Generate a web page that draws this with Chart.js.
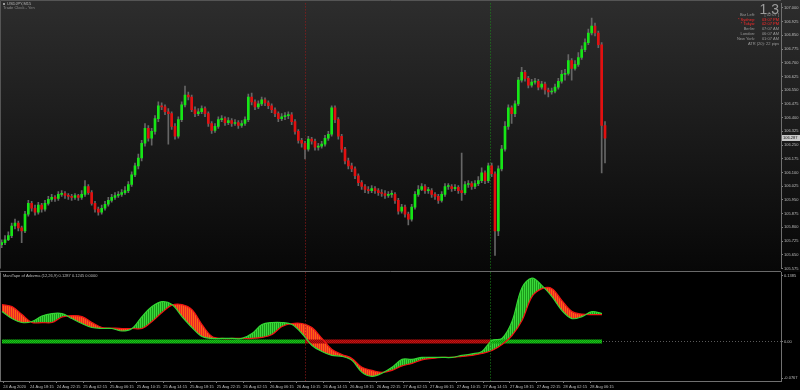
<!DOCTYPE html>
<html>
<head>
<meta charset="utf-8">
<script src="https://cdn.jsdelivr.net/npm/chart.js@4.4.1/dist/chart.umd.min.js"></script>
<style>
  html, body { margin: 0; padding: 0; background: #000; }
  #wrap { position: relative; width: 800px; height: 390px; overflow: hidden; background: #000; }
  canvas { position: absolute; left: 0; }
  #priceChart { top: 0; }
  #tapeChart { top: 269px; }
</style>
</head>
<body>
<div id="wrap">
  <canvas id="priceChart" width="800" height="272"></canvas>
  <canvas id="tapeChart" width="800" height="121"></canvas>
</div>
<script>
// USDJPY candles, one every 30 min; time is hours counted from 24 Aug 00:00
const firstBarHour = 14;
const barStep = 0.5;
const firstOpen = 105.705;

const closes = [
  105.716, 105.732, 105.754, 105.807, 105.823, 105.797, 105.780, 105.872, 105.931, 105.904,
  105.883, 105.921, 105.899, 105.931, 105.953, 105.964, 105.958, 105.980, 105.985, 105.974,
  105.969, 105.964, 105.974, 105.964, 105.980, 106.023, 105.990, 105.931, 105.899, 105.883,
  105.904, 105.926, 105.947, 105.964, 105.974, 105.980, 105.990, 106.001, 106.034, 106.087,
  106.136, 106.179, 106.260, 106.341, 106.287, 106.325, 106.395, 106.465, 106.459, 106.432,
  106.422, 106.352, 106.298, 106.389, 106.470, 106.524, 106.513, 106.443, 106.422, 106.432,
  106.449, 106.422, 106.368, 106.330, 106.352, 106.389, 106.395, 106.373, 106.384, 106.368,
  106.373, 106.357, 106.368, 106.389, 106.513, 106.486, 106.459, 106.475, 106.497, 106.481,
  106.465, 106.443, 106.422, 106.395, 106.405, 106.411, 106.416, 106.378, 106.325, 106.276,
  106.260, 106.228, 106.282, 106.271, 106.238, 106.244, 106.255, 106.287, 106.309, 106.454,
  106.389, 106.298, 106.228, 106.163, 106.136, 106.120, 106.082, 106.044, 106.023, 106.007,
  106.001, 106.012, 106.001, 105.990, 105.985, 105.974, 105.980, 105.980, 105.947, 105.888,
  105.910, 105.872, 105.845, 105.910, 105.980, 106.007, 106.023, 106.001, 106.001, 105.980,
  105.969, 105.947, 105.980, 106.023, 106.023, 106.012, 106.018, 106.001, 105.990, 106.034,
  106.039, 106.023, 106.039, 106.055, 106.098, 106.055, 106.136, 106.093, 105.780, 106.120,
  106.228, 106.352, 106.454, 106.422, 106.475, 106.605, 106.648, 106.615, 106.578, 106.594,
  106.599, 106.567, 106.583, 106.551, 106.540, 106.545, 106.567, 106.599, 106.637, 106.642,
  106.712, 106.669, 106.691, 106.729, 106.772, 106.810, 106.863, 106.901, 106.863, 106.799,
  106.357, 106.287
];

const highs = [
  105.732, 105.754, 105.775, 105.823, 105.845, 105.834, 105.807, 105.888, 105.947, 105.942,
  105.921, 105.937, 105.931, 105.947, 105.969, 105.980, 105.974, 105.996, 106.001, 105.996,
  105.985, 105.980, 105.985, 105.980, 106.001, 106.055, 106.034, 106.001, 105.942, 105.910,
  105.921, 105.942, 105.964, 105.980, 105.990, 105.996, 106.007, 106.023, 106.050, 106.104,
  106.152, 106.201, 106.276, 106.368, 106.357, 106.341, 106.411, 106.486, 106.481, 106.470,
  106.449, 106.432, 106.368, 106.405, 106.486, 106.572, 106.540, 106.524, 106.459, 106.449,
  106.465, 106.459, 106.432, 106.378, 106.368, 106.405, 106.411, 106.405, 106.400, 106.395,
  106.389, 106.384, 106.384, 106.405, 106.529, 106.535, 106.497, 106.492, 106.513, 106.508,
  106.492, 106.475, 106.454, 106.432, 106.422, 106.427, 106.432, 106.427, 106.389, 106.335,
  106.287, 106.271, 106.298, 106.292, 106.282, 106.260, 106.271, 106.303, 106.325, 106.465,
  106.465, 106.400, 106.309, 106.238, 106.179, 106.152, 106.131, 106.093, 106.055, 106.034,
  106.023, 106.028, 106.023, 106.012, 106.007, 106.001, 105.996, 106.001, 105.990, 105.958,
  105.926, 105.921, 105.883, 105.926, 105.996, 106.028, 106.039, 106.034, 106.018, 106.012,
  105.990, 105.980, 105.996, 106.039, 106.039, 106.034, 106.034, 106.028, 106.206, 106.050,
  106.055, 106.050, 106.055, 106.077, 106.125, 106.109, 106.152, 106.152, 106.104, 106.136,
  106.249, 106.378, 106.470, 106.465, 106.492, 106.621, 106.675, 106.659, 106.626, 106.610,
  106.615, 106.610, 106.599, 106.594, 106.562, 106.562, 106.583, 106.615, 106.659, 106.664,
  106.745, 106.723, 106.712, 106.756, 106.793, 106.831, 106.885, 106.944, 106.917, 106.874,
  106.810, 106.378
];

const lows = [
  105.689, 105.705, 105.727, 105.743, 105.791, 105.780, 105.716, 105.770, 105.861, 105.888,
  105.867, 105.872, 105.883, 105.888, 105.921, 105.942, 105.942, 105.947, 105.969, 105.958,
  105.953, 105.947, 105.953, 105.947, 105.953, 105.969, 105.980, 105.921, 105.883, 105.867,
  105.872, 105.894, 105.915, 105.937, 105.953, 105.964, 105.969, 105.980, 105.990, 106.023,
  106.077, 106.120, 106.163, 106.244, 106.271, 106.249, 106.309, 106.378, 106.443, 106.416,
  106.255, 106.335, 106.282, 106.287, 106.378, 106.459, 106.497, 106.432, 106.405, 106.411,
  106.422, 106.405, 106.352, 106.314, 106.319, 106.341, 106.378, 106.357, 106.362, 106.352,
  106.357, 106.341, 106.346, 106.357, 106.378, 106.470, 106.443, 106.449, 106.465, 106.465,
  106.449, 106.427, 106.405, 106.378, 106.384, 106.389, 106.395, 106.362, 106.309, 106.260,
  106.238, 106.174, 106.217, 106.255, 106.222, 106.222, 106.233, 106.244, 106.276, 106.298,
  106.373, 106.282, 106.211, 106.147, 106.120, 106.104, 106.066, 106.028, 106.007, 105.990,
  105.985, 105.990, 105.985, 105.974, 105.969, 105.958, 105.964, 105.964, 105.931, 105.872,
  105.877, 105.856, 105.813, 105.834, 105.899, 105.969, 106.001, 105.985, 105.985, 105.964,
  105.953, 105.931, 105.937, 105.969, 106.007, 105.996, 106.001, 105.985, 105.947, 105.980,
  106.018, 106.007, 106.012, 106.028, 106.044, 106.039, 106.044, 106.077, 105.646, 105.754,
  106.109, 106.217, 106.335, 106.368, 106.405, 106.465, 106.594, 106.599, 106.562, 106.567,
  106.583, 106.551, 106.556, 106.529, 106.513, 106.529, 106.535, 106.556, 106.589, 106.605,
  106.632, 106.605, 106.659, 106.680, 106.718, 106.761, 106.799, 106.852, 106.847, 106.783,
  106.098, 106.152
];

const priceTicks = [
  107.000, 106.925, 106.850, 106.775, 106.700, 106.625, 106.550, 106.475, 106.400, 106.325,
  106.250, 106.175, 106.100, 106.025, 105.950, 105.875, 105.800, 105.725, 105.650, 105.575
];

const timeTickHours = [
  14.25, 18.25, 22.25, 26.25, 30.25, 34.25, 38.25, 42.25, 46.25, 50.25, 54.25, 58.25,
  62.25, 66.25, 70.25, 74.25, 78.25, 82.25, 86.25, 90.25, 94.25, 98.25, 102.25
];
const timeLabels = [
  "24 Aug 2020", "24 Aug 18:15", "24 Aug 22:15", "25 Aug 02:15", "25 Aug 06:15", "25 Aug 10:15",
  "25 Aug 14:15", "25 Aug 18:15", "25 Aug 22:15", "26 Aug 02:15", "26 Aug 06:15", "26 Aug 10:15",
  "26 Aug 14:15", "26 Aug 18:15", "26 Aug 22:15", "27 Aug 02:15", "27 Aug 06:15", "27 Aug 10:15",
  "27 Aug 14:15", "27 Aug 18:15", "27 Aug 22:15", "28 Aug 02:15", "28 Aug 06:15"
];

// ManiTape lines, one reading every 1.5 h
const tapeStart = 14.05;
const tapeStep = 1.5;
const tapeFast = [
  0.0627, 0.0480, 0.0397, 0.0418, 0.0533, 0.0585, 0.0585, 0.0480, 0.0376, 0.0292,
  0.0272, 0.0272, 0.0219, 0.0272, 0.0522, 0.0731, 0.0836, 0.0773, 0.0522, 0.0292,
  0.0104, 0.0063, 0.0063, 0.0063, 0.0063, 0.0167, 0.0355, 0.0397, 0.0397, 0.0355,
  0.0167, -0.0084, -0.0209, -0.0292, -0.0313, -0.0397, -0.0648, -0.0731, -0.0668, -0.0543,
  -0.0376, -0.0376, -0.0334, -0.0334, -0.0334, -0.0334, -0.0292, -0.0261, -0.0209, 0.0021,
  0.0063, 0.0418, 0.1128, 0.1327, 0.1170, 0.0940, 0.0648, 0.0480, 0.0522, 0.0627,
  0.0585
];
const tapeSlow = [
  0.0773, 0.0731, 0.0564, 0.0397, 0.0397, 0.0397, 0.0512, 0.0543, 0.0522, 0.0397,
  0.0292, 0.0282, 0.0272, 0.0272, 0.0272, 0.0418, 0.0606, 0.0762, 0.0773, 0.0668,
  0.0355, 0.0104, 0.0063, 0.0063, 0.0063, 0.0063, 0.0084, 0.0146, 0.0313, 0.0376,
  0.0376, 0.0292, 0.0063, -0.0167, -0.0272, -0.0355, -0.0543, -0.0606, -0.0648, -0.0606,
  -0.0512, -0.0460, -0.0386, -0.0355, -0.0334, -0.0334, -0.0313, -0.0292, -0.0251, -0.0188,
  -0.0063, 0.0125, 0.0439, 0.0940, 0.1107, 0.1107, 0.0856, 0.0627, 0.0574, 0.0564,
  0.0564
];
const tapeTicks = [0.1385, 0, -0.0767];
const tapeTickLabels = ["0.1385", "0.00", "-0.0767"];

// zero band: trend signal flips at these hours
const bandHours = [14.05, 59.5, 87.25, 104.05];
const bandSignal = ["up", "down", "up"];

const clockNames = ["Bar Left:", "* Sydney:", "* Tokyo:", "Berlin:", "London:", "New York:"];
const clockValues = ["[ 02:07 ]", "03:07 PM", "02:07 PM", "07:07 AM", "06:07 AM", "01:07 AM"];
const clockRed = [false, true, true, false, false, false];

const xMin = 13.75;
const xMax = 130.9;

Chart.defaults.font.family = "'Liberation Sans', Arial, sans-serif";
Chart.defaults.font.size = 4;
Chart.defaults.color = "#bdbdbd";

const opens = [firstOpen].concat(closes.slice(0, -1)); // each bar opens at the previous close
const barHour = i => firstBarHour + i * barStep;

const wickData = closes.map((c, i) => ({ x: barHour(i), y: [lows[i], highs[i]] }));
const bodyData = closes.map((c, i) => ({ x: barHour(i), y: [opens[i], c] }));
const bodyColors = closes.map((c, i) => c >= opens[i] ? "#16e616" : "#e21010");

function drawSignals(chart) {
  const { ctx, chartArea, scales } = chart;
  ctx.save();
  ctx.lineWidth = 1;
  ctx.setLineDash([1, 2]);
  for (let i = 1; i < bandHours.length - 1; i++) {
    const x = Math.round(scales.x.getPixelForValue(bandHours[i])) + 0.5;
    ctx.strokeStyle = bandSignal[i] === "down" ? "#9b1b1b" : "#1b8a1b";
    ctx.beginPath();
    ctx.moveTo(x, chartArea.top);
    ctx.lineTo(x, chartArea.bottom);
    ctx.stroke();
  }
  ctx.restore();
}

const pricePanel = {
  id: "pricePanel",
  beforeDraw(chart) {
    const { ctx, width, height } = chart;
    const g = ctx.createLinearGradient(0, 0, 0, height);
    g.addColorStop(0, "#2d2d2d");
    g.addColorStop(1, "#070707");
    ctx.save();
    ctx.fillStyle = g;
    ctx.fillRect(0, 0, width, height);
    ctx.restore();
  },
  beforeDatasetsDraw(chart) {
    drawSignals(chart);
  },
  afterDraw(chart) {
    const { ctx, chartArea, scales } = chart;
    ctx.save();
    // frame
    ctx.strokeStyle = "#555";
    ctx.lineWidth = 1;
    ctx.beginPath();
    ctx.moveTo(0.5, chartArea.bottom);
    ctx.lineTo(0.5, 0.5);
    ctx.lineTo(chartArea.right, 0.5);
    ctx.stroke();

    // symbol title
    ctx.fillStyle = "#9a9a9a";
    ctx.fillRect(3, 3, 2, 2);
    ctx.font = "4px 'Liberation Sans'";
    ctx.textBaseline = "middle";
    ctx.textAlign = "left";
    ctx.fillStyle = "#b5b5b5";
    ctx.fillText("USDJPY,M15", 7, 4);
    ctx.fillStyle = "#8a8a8a";
    ctx.fillText("Trade Clock - Yen", 3, 8);

    // clock box
    ctx.textAlign = "right";
    ctx.textBaseline = "alphabetic";
    ctx.font = "14px 'Liberation Sans'";
    ctx.fillStyle = "#9c9c9c";
    ctx.fillText("1.3", 779, 13.5);
    ctx.font = "4px 'Liberation Sans'";
    ctx.textBaseline = "middle";
    const rowY = [15.3, 19.7, 24, 29, 34, 38.7];
    clockNames.forEach((name, i) => {
      ctx.fillStyle = clockRed[i] ? "#ff2a2a" : "#9a9a9a";
      ctx.fillText(name, 755, rowY[i]);
      ctx.fillText(clockValues[i], 779, rowY[i]);
    });
    ctx.fillStyle = "#9a9a9a";
    ctx.fillText("ATR (20): 22 pips", 779, 43.7);

    // current price tag
    const last = closes[closes.length - 1];
    const y = scales.y.getPixelForValue(last);
    ctx.fillStyle = "#c8c8c8";
    ctx.fillRect(chartArea.right + 1, Math.round(y) - 3, 19, 6);
    ctx.fillStyle = "#111";
    ctx.textAlign = "left";
    ctx.fillText(last.toFixed(3), chartArea.right + 2, Math.round(y));
    ctx.restore();
  }
};

new Chart(document.getElementById("priceChart"), {
  type: "bar",
  data: {
    datasets: [
      { data: wickData, backgroundColor: "#666", barThickness: 1, grouped: false, order: 2 },
      { data: bodyData, backgroundColor: bodyColors, barThickness: 2, grouped: false, minBarLength: 1, order: 1 }
    ]
  },
  options: {
    responsive: false,
    animation: false,
    devicePixelRatio: 1,
    events: [],
    layout: { padding: { left: 0, right: 0, top: 0, bottom: 2 } },
    plugins: { legend: { display: false }, tooltip: { enabled: false } },
    scales: {
      x: { type: "linear", min: xMin, max: xMax, display: false, offset: false, grid: { offset: false } },
      y: {
        position: "right",
        min: 105.574,
        max: 107.025,
        afterBuildTicks: s => { s.ticks = priceTicks.map(v => ({ value: v })); },
        afterFit: s => { s.width = 19; },
        border: { color: "#707070" },
        grid: { drawOnChartArea: false, drawTicks: true, tickLength: 2, color: "#808080" },
        ticks: { autoSkip: false, padding: 1, callback: v => v.toFixed(3) }
      }
    }
  },
  plugins: [pricePanel]
});

const tapeCanvas = document.getElementById("tapeChart");
const tapeCtx = tapeCanvas.getContext("2d");

function stripePattern(a, b) {
  const c = document.createElement("canvas");
  c.width = 2;
  c.height = 1;
  const g = c.getContext("2d");
  g.fillStyle = a;
  g.fillRect(0, 0, 1, 1);
  g.fillStyle = b;
  g.fillRect(1, 0, 1, 1);
  return tapeCtx.createPattern(c, "repeat");
}

function checkerPattern(a, b) {
  const c = document.createElement("canvas");
  c.width = 2;
  c.height = 2;
  const g = c.getContext("2d");
  g.fillStyle = a;
  g.fillRect(0, 0, 2, 2);
  g.fillStyle = b;
  g.fillRect(0, 0, 1, 1);
  g.fillRect(1, 1, 1, 1);
  return tapeCtx.createPattern(c, "repeat");
}

const greenTape = stripePattern("#3ad83a", "#1a9a1a");
const redTape = stripePattern("#e8282a", "#ff6410");
const greenBand = checkerPattern("#18c818", "#0c8a0c");
const redBand = checkerPattern("#cc1010", "#8a0a0a");

const fastPts = tapeFast.map((v, i) => ({ x: tapeStart + i * tapeStep, y: v }));
const slowPts = tapeSlow.map((v, i) => ({ x: tapeStart + i * tapeStep, y: v }));
const bandPts = bandHours.map(h => ({ x: h, y: 0 }));

const tapePanel = {
  id: "tapePanel",
  beforeDraw(chart) {
    const { ctx, width, height } = chart;
    ctx.save();
    ctx.fillStyle = "#000";
    ctx.fillRect(0, 3, width, height - 3);
    ctx.restore();
  },
  beforeDatasetsDraw(chart) {
    const { ctx, chartArea, scales } = chart;
    const y = Math.round(scales.y.getPixelForValue(0)) + 0.5;
    ctx.save();
    ctx.strokeStyle = "#5a5a5a";
    ctx.setLineDash([1, 2]);
    ctx.beginPath();
    ctx.moveTo(chartArea.left, y);
    ctx.lineTo(chartArea.right, y);
    ctx.stroke();
    ctx.restore();
  },
  afterDatasetsDraw(chart) {
    drawSignals(chart);
  },
  afterDraw(chart) {
    const { ctx, chartArea } = chart;
    ctx.save();
    ctx.strokeStyle = "#6a6a6a";
    ctx.lineWidth = 1;
    ctx.beginPath();
    ctx.moveTo(0, 2.5);
    ctx.lineTo(chartArea.right, 2.5);
    ctx.moveTo(0.5, chartArea.top);
    ctx.lineTo(0.5, chartArea.bottom);
    ctx.stroke();
    ctx.font = "4px 'Liberation Sans'";
    ctx.fillStyle = "#bdbdbd";
    ctx.textBaseline = "middle";
    ctx.fillText("ManiTape of Adxvma (12,26,9) 0.1287 0.1245 0.0000", 3, 6.5);
    ctx.restore();
  }
};

new Chart(tapeCanvas, {
  type: "line",
  data: {
    datasets: [
      {
        data: fastPts,
        borderColor: "#33d633",
        borderWidth: 1.2,
        pointRadius: 0,
        tension: 0.35,
        fill: { target: 1, above: greenTape, below: redTape }
      },
      { data: slowPts, borderColor: "#f01414", borderWidth: 1.2, pointRadius: 0, tension: 0.35, fill: false },
      {
        data: bandPts,
        borderWidth: 4,
        pointRadius: 0,
        fill: false,
        borderCapStyle: "butt",
        segment: { borderColor: c => bandSignal[c.p0DataIndex] === "down" ? redBand : greenBand }
      }
    ]
  },
  options: {
    responsive: false,
    animation: false,
    devicePixelRatio: 1,
    events: [],
    layout: { padding: { left: 0, right: 0, top: 3, bottom: 0 } },
    plugins: {
      legend: { display: false },
      tooltip: { enabled: false },
      filler: { drawTime: "beforeDatasetsDraw" }
    },
    scales: {
      x: {
        type: "linear",
        min: xMin,
        max: xMax,
        position: "bottom",
        afterBuildTicks: s => { s.ticks = timeTickHours.map(v => ({ value: v })); },
        afterFit: s => { s.height = 9; },
        border: { color: "#707070" },
        grid: { drawOnChartArea: false, tickLength: 2, color: "#808080" },
        ticks: { align: "start", autoSkip: false, maxRotation: 0, minRotation: 0, padding: 1, callback: (v, i) => timeLabels[i] }
      },
      y: {
        position: "right",
        min: -0.0829,
        max: 0.1448,
        afterBuildTicks: s => { s.ticks = tapeTicks.map(v => ({ value: v })); },
        afterFit: s => { s.width = 19; },
        border: { color: "#707070" },
        grid: { drawOnChartArea: false, tickLength: 2, color: "#808080" },
        ticks: { autoSkip: false, padding: 1, callback: (v, i) => tapeTickLabels[i] }
      }
    }
  },
  plugins: [tapePanel]
});
</script>
</body>
</html>
